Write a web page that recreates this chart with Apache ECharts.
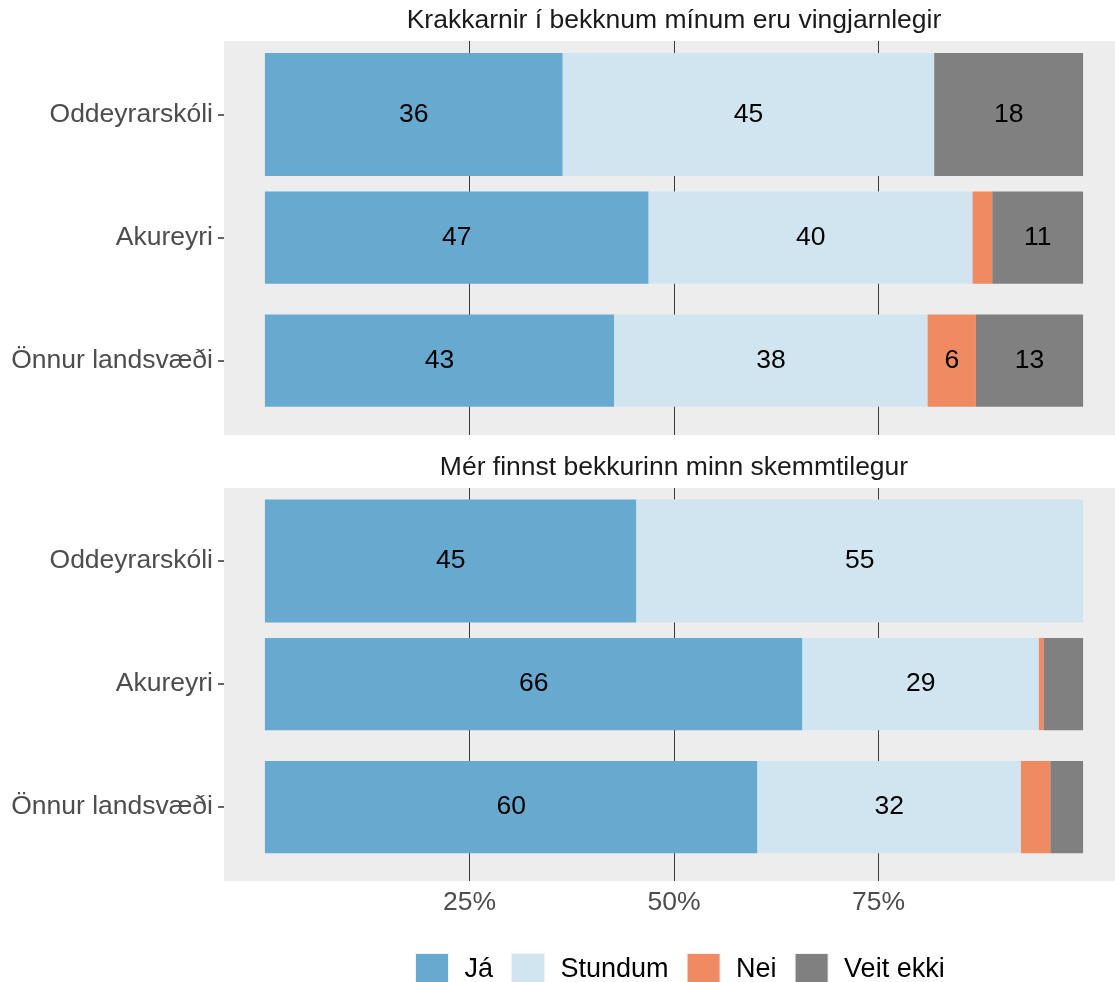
<!DOCTYPE html>
<html>
<head>
<meta charset="utf-8">
<title>Bekkurinn</title>
<script src="https://cdn.jsdelivr.net/npm/echarts@6/dist/echarts.min.js"></script>
<style>html,body{margin:0;padding:0;background:#fff}</style>
</head>
<body>
<div id="main" style="width:1115px;height:982px"></div>
<script type="text/javascript">
var schools = ['Oddeyrarskóli', 'Akureyri', 'Önnur landsvæði'];
var answers = ['Já', 'Stundum', 'Nei', 'Veit ekki'];
var panelTitles = ['Krakkarnir í bekknum mínum eru vingjarnlegir', 'Mér finnst bekkurinn minn skemmtilegur'];
var tickValues = [25, 50, 75];
// hlutfall (%) fyrir hvern skóla: [Já, Stundum, Nei, Veit ekki]
var vingjarnlegir = [
    [36.4, 45.4, 0, 18.2],
    [46.9, 39.6, 2.4, 11.1],
    [42.7, 38.3, 5.9, 13.1]
];
var skemmtilegur = [
    [45.4, 54.6, 0, 0],
    [65.7, 28.9, 0.6, 4.8],
    [60.2, 32.2, 3.6, 4.0]
];
var colors = ['#67a9cf', '#d1e5f0', '#ef8a62', '#808080'];

var font = 'Liberation Sans, Arial, Helvetica, sans-serif';
var fs = 26.5;
var panelData = [vingjarnlegir, skemmtilegur];
// panel boxes (grey background) and band area of each panel
var panelBox = [{top: 41, height: 394}, {top: 488, height: 393}];
var gridTop = [53, 499.5];

var series = [];
panelData.forEach(function (rows, p) {
    answers.forEach(function (ans, a) {
        [0, 1].forEach(function (k) {
            series.push({
                name: ans,
                type: 'bar',
                stack: 'p' + p + '_' + k,
                xAxisIndex: p,
                yAxisIndex: p * 2 + k,
                barWidth: k === 0 ? '100%' : '75%',
                itemStyle: {color: colors[a]},
                emphasis: {disabled: true},
                label: {
                    show: true, position: 'inside', color: '#000',
                    fontSize: fs, fontFamily: font,
                    formatter: function (d) { return d.value >= 5 ? Math.round(d.value) : ''; }
                },
                data: rows.map(function (r, i) { return ((i === 0) === (k === 0)) ? r[a] : '-'; })
            });
        });
    });
});

var xAxes = [], yAxes = [], grids = [], graphics = [];
panelBox.forEach(function (box, p) {
    grids.push({left: 224, right: 0, top: gridTop[p], height: 369, outerBoundsMode: 'none'});
    var off = box.top + box.height - (gridTop[p] + 369);
    xAxes.push({
        type: 'value', gridIndex: p, min: -5, max: 103.9, offset: off,
        axisLine: {show: false, onZero: false},
        splitLine: {show: false},
        axisTick: {show: true, inside: true, length: box.height, customValues: tickValues,
            lineStyle: {color: '#3a3a3a', width: 1}},
        axisLabel: {show: p === 1, customValues: tickValues, formatter: '{value}%',
            color: '#4d4d4d', fontSize: fs, fontFamily: font, margin: 8}
    });
    yAxes.push({
        type: 'category', gridIndex: p, data: schools, inverse: true,
        axisLine: {show: false, onZero: false},
        axisTick: {show: true, alignWithLabel: true, length: 6, lineStyle: {color: '#333', width: 1.5}},
        axisLabel: {color: '#4d4d4d', fontSize: fs, fontFamily: font, margin: 11}
    });
    yAxes.push({type: 'category', gridIndex: p, data: schools, inverse: true, show: false});
    graphics.push({type: 'rect', z: -5, silent: true,
        shape: {x: 224, y: box.top, width: 891, height: box.height},
        style: {fill: '#ededed'}});
    graphics.push({type: 'text', silent: true, x: 674, y: box.top - 20,
        style: {text: panelTitles[p], font: fs + 'px ' + font, fill: '#1a1a1a',
            textAlign: 'center', textVerticalAlign: 'middle'}});
});

var myChart = echarts.init(document.getElementById('main'));
myChart.setOption({
    animation: false,
    backgroundColor: '#fff',
    graphic: graphics,
    grid: grids,
    xAxis: xAxes,
    yAxis: yAxes,
    legend: {
        data: answers, left: 410, top: 948, itemWidth: 33, itemHeight: 33, itemGap: 18,
        icon: 'rect', selectedMode: false,
        itemStyle: {borderColor: '#f2f2f2', borderWidth: 1},
        textStyle: {fontSize: 27, color: '#000', fontFamily: font, padding: [0, 0, 0, 11]}
    },
    series: series
});
</script>
</body>
</html>
